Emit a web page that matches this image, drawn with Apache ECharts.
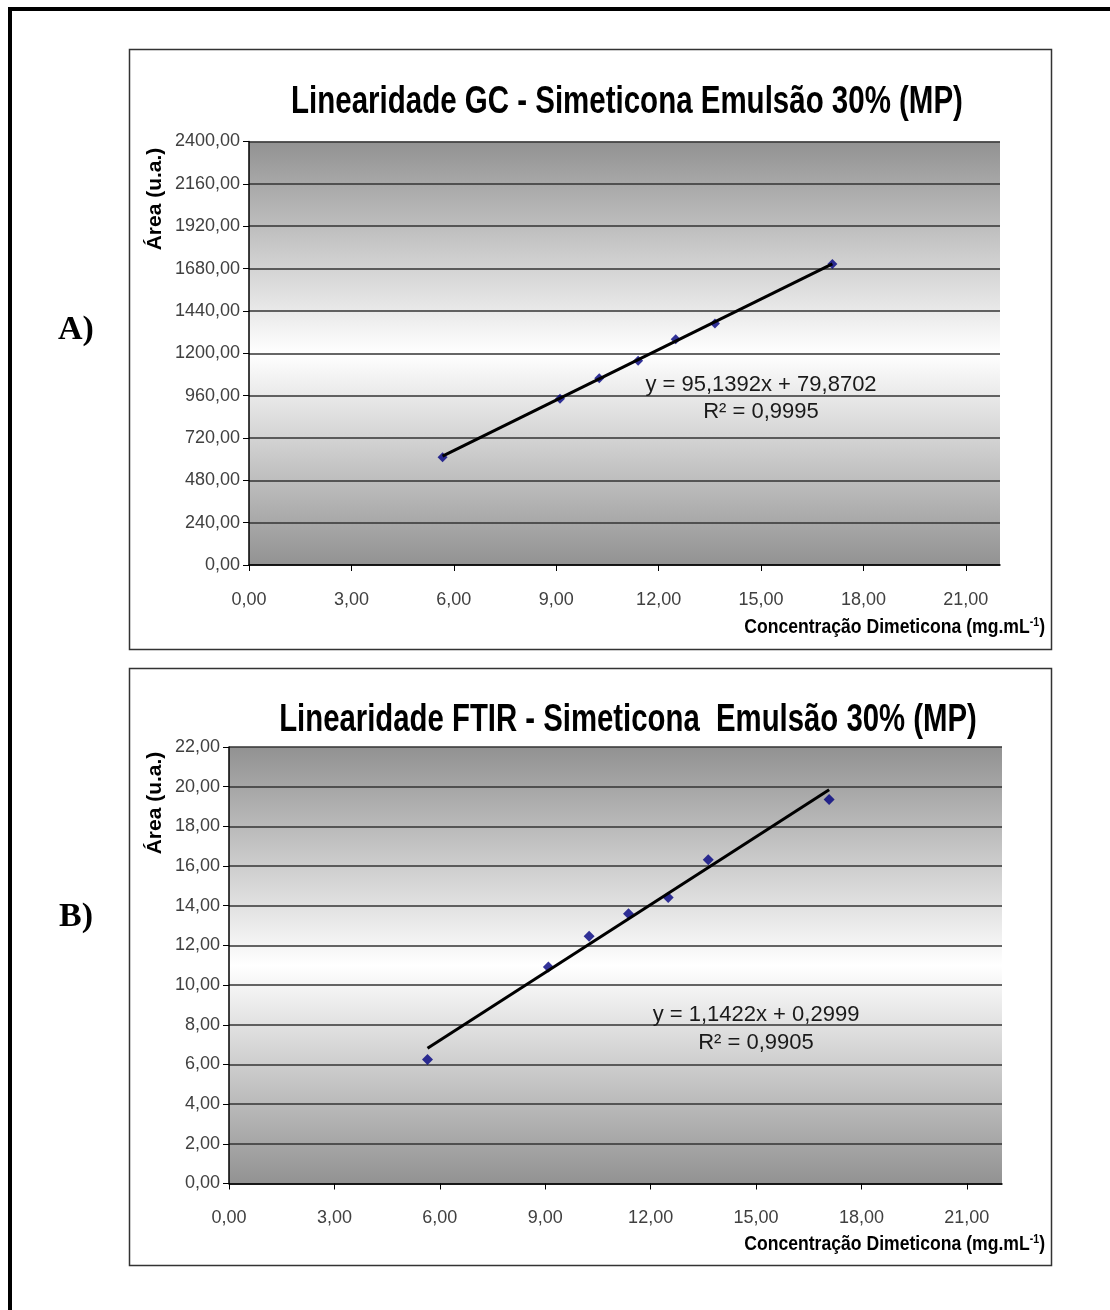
<!DOCTYPE html>
<html>
<head>
<meta charset="utf-8">
<script src="https://cdn.jsdelivr.net/npm/echarts@6/dist/echarts.min.js"></script>
<style>
html,body{margin:0;padding:0;background:#fff;}
#chart{width:1110px;height:1310px;}
</style>
</head>
<body>
<div id="chart"></div>
<script>
// ---- data ----
const titleGC = 'Linearidade GC - Simeticona Emulsão 30% (MP)';
const titleFTIR = 'Linearidade FTIR - Simeticona  Emulsão 30% (MP)';
const xAxisName = 'Concentração Dimeticona (mg.mL';
const yAxisName = 'Área (u.a.)';
const xTicks = [0, 3, 6, 9, 12, 15, 18, 21];

const concGC = [5.67, 9.11, 10.26, 11.40, 12.50, 13.65, 17.09];
const areaGC = [610, 942, 1058, 1158, 1280, 1368, 1706];
const trendGCx = [5.67, 17.09];
const trendGCy = [617, 1706];
const eqGC = ['y = 95,1392x + 79,8702', 'R² = 0,9995'];

const concFTIR = [5.65, 9.09, 10.25, 11.37, 12.50, 13.64, 17.08];
const areaFTIR = [6.25, 10.91, 12.46, 13.60, 14.42, 16.32, 19.35];
const trendFTIRx = [5.65, 17.08];
const trendFTIRy = [6.82, 19.85];
const eqFTIR = ['y = 1,1422x + 0,2999', 'R² = 0,9905'];

// ---- helpers ----
const fmt = v => v.toFixed(2).replace('.', ',');
const zip = (a, b) => a.map((v, i) => [v, b[i]]);
const bg = {
  type: 'linear', x: 0, y: 0, x2: 0, y2: 1,
  colorStops: [
    {offset: 0, color: '#929292'},
    {offset: 0.5, color: '#ffffff'},
    {offset: 1, color: '#929292'}
  ]
};
const tickFont = {fontFamily: 'Liberation Sans, Arial, sans-serif', fontSize: 18, color: '#404040'};

function xAx(gi) {
  return {
    type: 'value', gridIndex: gi, min: 0, max: 22, interval: 1,
    axisLine: {show: true, lineStyle: {color: '#000', width: 1.5}},
    axisTick: {show: true, length: 6, customValues: xTicks, lineStyle: {color: '#000', width: 1}},
    axisLabel: Object.assign({margin: 26, customValues: xTicks, formatter: fmt}, tickFont),
    splitLine: {show: false}
  };
}
function yAx(gi, max, interval) {
  return {
    type: 'value', gridIndex: gi, min: 0, max: max, interval: interval,
    axisLine: {show: true, lineStyle: {color: '#000', width: 1.5}},
    axisTick: {show: true, length: 6, lineStyle: {color: '#000', width: 1}},
    axisLabel: Object.assign({margin: 9, formatter: fmt}, tickFont),
    splitLine: {show: true, lineStyle: {color: '#333', width: 1.5}}
  };
}

function textEl(x, y, text, font, opts) {
  return Object.assign({
    type: 'text', x: x, y: y, z: 100,
    style: Object.assign({text: text, font: font, fill: '#000', align: 'center', verticalAlign: 'middle'}, (opts && opts.style) || {})
  }, (opts && opts.el) || {});
}

const titleFont = 'bold 38px "Liberation Sans", Arial, sans-serif';
const eqFont = 'normal 22px "Liberation Sans", Arial, sans-serif';
const nameFont = 'bold 20px "Liberation Sans", Arial, sans-serif';
const yNameFont = 'bold 21px "Liberation Sans", Arial, sans-serif';
const labelFont = 'bold 34px "Liberation Serif", "Times New Roman", serif';

function xName(x, y) {
  return {
    type: 'text', x: x, y: y, z: 100, scaleX: 0.88,
    style: {
      text: '{a|' + xAxisName + '}{s|-1}{a|)}',
      align: 'right', verticalAlign: 'middle',
      rich: {
        a: {font: nameFont, fill: '#000'},
        s: {font: 'bold 12px "Liberation Sans", Arial, sans-serif', fill: '#000', verticalAlign: 'top'}
      }
    }
  };
}

const graphic = [
  // outer frame
  {type: 'line', z: 100, shape: {x1: 8, y1: 9, x2: 1110, y2: 9}, style: {stroke: '#000', lineWidth: 4}},
  {type: 'line', z: 100, shape: {x1: 10, y1: 7, x2: 10, y2: 1310}, style: {stroke: '#000', lineWidth: 4}},
  // panel boxes
  {type: 'rect', z: 100, shape: {x: 129.5, y: 49.5, width: 922, height: 600}, style: {fill: 'none', stroke: '#333', lineWidth: 1.5}},
  {type: 'rect', z: 100, shape: {x: 129.5, y: 668.5, width: 922, height: 597}, style: {fill: 'none', stroke: '#333', lineWidth: 1.5}},
  // panel letters
  textEl(76, 330, 'A)', labelFont),
  textEl(76, 917, 'B)', labelFont),
  // titles
  Object.assign(textEl(627, 103, titleGC, titleFont), {scaleX: 0.776}),
  Object.assign(textEl(628, 721, titleFTIR, titleFont), {scaleX: 0.772}),
  // y axis names
  Object.assign(textEl(155, 199, yAxisName, yNameFont), {rotation: Math.PI / 2}),
  Object.assign(textEl(155, 803, yAxisName, yNameFont), {rotation: Math.PI / 2}),
  // x axis names
  xName(1045, 627),
  xName(1045, 1244),
  // trendline equations
  textEl(761, 385, eqGC[0], eqFont, {style: {fill: '#1a1a1a'}}),
  textEl(761, 412, eqGC[1], eqFont, {style: {fill: '#1a1a1a'}}),
  textEl(756, 1015, eqFTIR[0], eqFont, {style: {fill: '#1a1a1a'}}),
  textEl(756, 1043, eqFTIR[1], eqFont, {style: {fill: '#1a1a1a'}})
];

const chart = echarts.init(document.getElementById('chart'), null, {renderer: 'canvas'});
chart.setOption({
  animation: false,
  backgroundColor: '#fff',
  grid: [
    {left: 249, top: 141.5, width: 751, height: 423.5, show: true, backgroundColor: bg, borderWidth: 0},
    {left: 229, top: 747, width: 773, height: 436.5, show: true, backgroundColor: bg, borderWidth: 0}
  ],
  xAxis: [xAx(0), xAx(1)],
  yAxis: [yAx(0, 2400, 240), yAx(1, 22, 2)],
  series: [
    {type: 'scatter', xAxisIndex: 0, yAxisIndex: 0, data: zip(concGC, areaGC), symbol: 'diamond', symbolSize: 10, itemStyle: {color: '#000080'}, z: 3},
    {type: 'line', xAxisIndex: 0, yAxisIndex: 0, data: zip(trendGCx, trendGCy), showSymbol: false, symbol: 'none', lineStyle: {color: '#000', width: 3}, z: 4},
    {type: 'scatter', xAxisIndex: 1, yAxisIndex: 1, data: zip(concFTIR, areaFTIR), symbol: 'diamond', symbolSize: 11, itemStyle: {color: '#000080'}, z: 3},
    {type: 'line', xAxisIndex: 1, yAxisIndex: 1, data: zip(trendFTIRx, trendFTIRy), showSymbol: false, symbol: 'none', lineStyle: {color: '#000', width: 3}, z: 4}
  ],
  graphic: graphic
});
</script>
</body>
</html>
